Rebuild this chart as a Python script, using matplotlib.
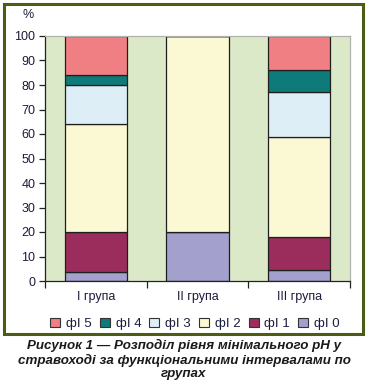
import matplotlib
matplotlib.use("Agg")
import matplotlib.pyplot as plt
from matplotlib.patches import Rectangle, Patch
import numpy as np

groups = ["I група", "II група", "III група"]
series_names = ["фІ 0", "фІ 1", "фІ 2", "фІ 3", "фІ 4", "фІ 5"]
fi0 = [3.7, 20.0, 4.3]
fi1 = [16.1, 0.0, 13.6]
fi2 = [44.1, 80.0, 41.0]
fi3 = [16.1, 0.0, 18.2]
fi4 = [3.9, 0.0, 9.2]
fi5 = [16.1, 0.0, 13.7]
series = [fi0, fi1, fi2, fi3, fi4, fi5]
colors = ["#A3A0CE", "#9B2D5C", "#FBF8D4", "#DDEEF6", "#0E7B7A", "#EF7F82"]
yticks = [0, 10, 20, 30, 40, 50, 60, 70, 80, 90, 100]
caption = "Рисунок 1 — Розподіл рівня мінімального рН у\nстравоході за функціональними інтервалами по\nгрупах"

W, H = 368, 389
fig = plt.figure(figsize=(W / 100, H / 100), dpi=100)
fig.patch.set_facecolor("white")

# outer frame
fig.patches.append(Rectangle((4 / W, 1 - 334 / H), 359 / W, 330 / H,
                             transform=fig.transFigure, fill=False,
                             edgecolor="#4A5C16", linewidth=2.2))

ax = fig.add_axes([45 / W, 1 - 281 / H, 305 / W, 245 / H])
ax.set_facecolor("#DCE9C9")
x = np.arange(len(groups))
bottom = np.zeros(len(groups))
for vals, c in zip(series, colors):
    ax.bar(x, vals, width=0.61, bottom=bottom, color=c,
           edgecolor="#1E1E1E", linewidth=0.9)
    bottom += np.array(vals)

ax.set_xlim(-0.5, 2.5)
ax.set_ylim(0, 100)
ax.set_yticks(yticks)
ax.set_yticklabels([str(t) for t in yticks], fontsize=9, color="#1C1C3C",
                   family="Liberation Sans")
ax.set_xticks([-0.5, 0.5, 1.5, 2.5])
ax.set_xticklabels([])
ax.set_xticks(x, minor=True)
ax.set_xticklabels(groups, minor=True, fontsize=9, color="#1C1C3C",
                   family="Liberation Sans")
ax.tick_params(axis="x", which="minor", length=0, pad=7)
ax.tick_params(axis="x", which="major", length=5, width=0.9, color="#222222")
ax.tick_params(axis="y", length=4, width=0.9, color="#222222", pad=3)
for s in ["top", "right"]:
    ax.spines[s].set_color("#B0B0B0")
    ax.spines[s].set_linewidth(0.9)
for s in ["left", "bottom"]:
    ax.spines[s].set_color("#222222")
    ax.spines[s].set_linewidth(0.9)

fig.text(28 / W, 1 - 15 / H, "%", fontsize=9, color="#1C1C3C",
         family="Liberation Sans", ha="center", va="center")

# legend (reverse order: фІ 5 ... фІ 0)
handles = [Patch(facecolor=c, edgecolor="#333333", linewidth=0.8)
           for c in colors[::-1]]
leg = fig.legend(handles, series_names[::-1], loc="center",
                 bbox_to_anchor=(195 / W, 1 - 324 / H), ncol=6, frameon=False,
                 prop={"family": "Liberation Sans", "size": 9.5},
                 handlelength=0.75, handleheight=0.75, handletextpad=0.45,
                 columnspacing=0.62)
for t in leg.get_texts():
    t.set_color("#1C1C3C")

fig.text(184 / W, 1 - 359.5 / H, caption, ha="center", va="center",
         fontsize=9.6, fontweight="bold", fontstyle="italic",
         family="Liberation Sans", color="#1A1A1A", linespacing=1.12)

fig.savefig("out.png", dpi=100)
